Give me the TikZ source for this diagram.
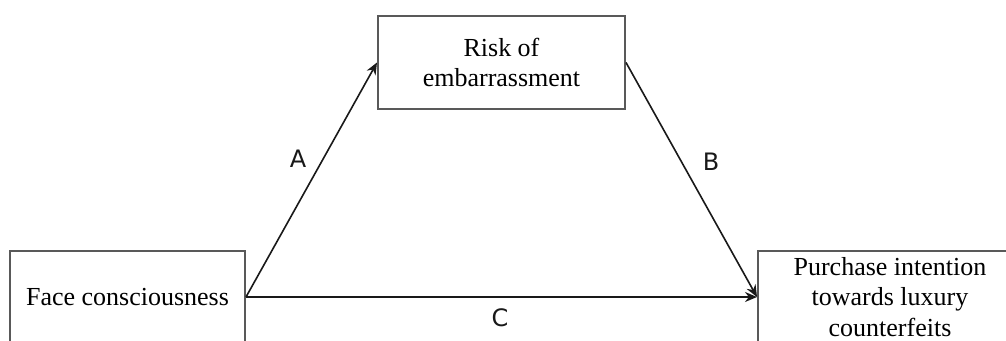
\documentclass[tikz,border=0pt]{standalone}
\usepackage{fontspec}
\setmainfont{Liberation Serif}
\newfontfamily\labelfont{DejaVu Sans}
\usetikzlibrary{arrows.meta}
\begin{document}
\begin{tikzpicture}[x=1pt,y=-1pt,
  box/.style={draw=black!65, line width=2pt, inner sep=0pt, align=center,
    font=\fontsize{26}{30.5}\selectfont, text=black},
  conn/.style={draw=black!90, line width=1.6pt, -{Stealth[length=12pt,width=10pt]}},
  lab/.style={font=\labelfont\fontsize{24}{28}\selectfont, text=black!90}]
\useasboundingbox (0,0) rectangle (1006,340);
\clip (0,0) rectangle (1006,340);
\fill[white] (0,0) rectangle (1006,340);
\node[box, minimum width=235pt, minimum height=92pt] (fc) at (127.5,297) {Face consciousness};
\node[box, minimum width=247pt, minimum height=93pt] (re) at (501.5,62.5) {Risk of\\embarrassment};
\node[box, minimum width=264pt, minimum height=92pt] (pi) at (890,297) {\raisebox{2pt}{\parbox{260pt}{\centering Purchase intention\\towards luxury\\counterfeits}}};
\draw[conn] (fc.east) -- (re.west);
\draw[conn] (re.east) -- (pi.west);
\draw[conn] (fc.east) -- (pi.west);
\node[lab] (la) at (298,159) {A};
\node[lab] (lb) at (711,162) {B};
\node[lab] (lc) at (500,318) {C};
\end{tikzpicture}
\end{document}
